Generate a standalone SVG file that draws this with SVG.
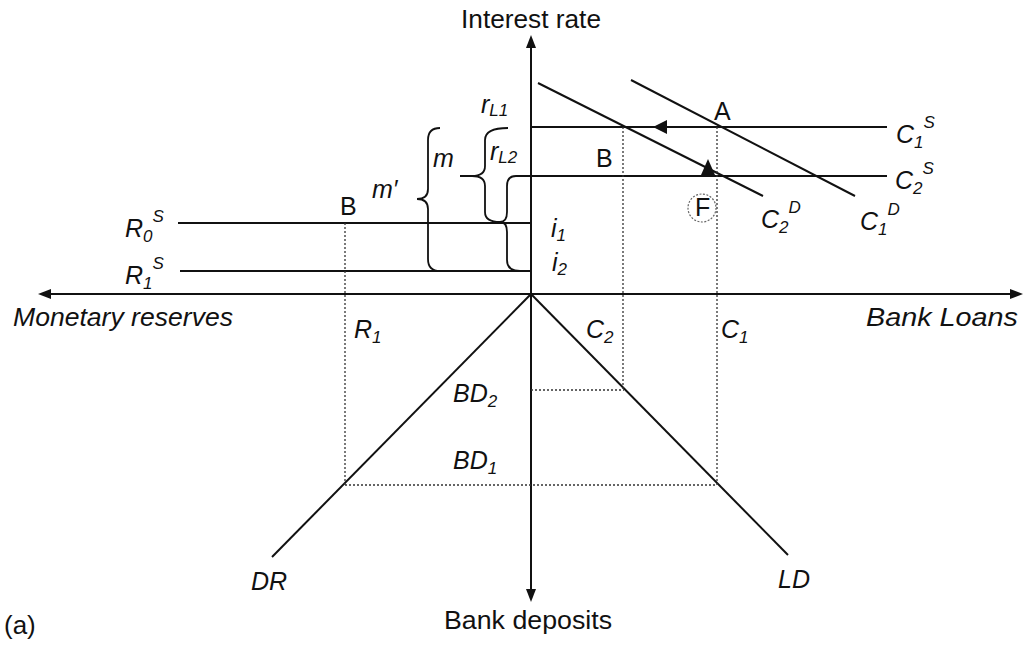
<svg xmlns="http://www.w3.org/2000/svg" width="1025" height="645" viewBox="0 0 1025 645">
<defs>
<style>
.ln{stroke:#111;stroke-width:2;fill:none}
.ax{stroke:#111;stroke-width:2;fill:none}
.dt{stroke:#333;stroke-width:1.3;stroke-dasharray:2 2;fill:none}
.br{stroke:#111;stroke-width:1.8;fill:none}
.t{font-family:"Liberation Sans",Arial,sans-serif;font-size:25px;fill:#111}
.ttl{font-size:26px}
.i{font-style:italic}
.sb{font-size:17px}
.hd{fill:#111;stroke:none}
</style>
</defs>
<rect width="1025" height="645" fill="#fff"/>
<g id="axes">
<line class="ax" x1="531" y1="40" x2="531" y2="597"/>
<line class="ax" x1="44" y1="294" x2="1017" y2="294"/>
<polygon class="hd" points="531,35 526,48 536,48"/>
<polygon class="hd" points="531,602 526,589 536,589"/>
<polygon class="hd" points="38,294 51,289 51,299"/>
<polygon class="hd" points="1023,294 1010,289 1010,299"/>
</g>
<g id="curves">
<line class="ln" x1="531" y1="127" x2="887" y2="127"/>
<line class="ln" x1="531" y1="176" x2="887" y2="176"/>
<line class="ln" x1="178" y1="223" x2="531" y2="223"/>
<line class="ln" x1="180" y1="271" x2="531" y2="271"/>
<line class="ln" x1="538" y1="83" x2="763" y2="196"/>
<line class="ln" x1="631" y1="80" x2="855" y2="196"/>
<line class="ln" x1="531" y1="294" x2="272" y2="557"/>
<line class="ln" x1="531" y1="294" x2="788" y2="555"/>
<polygon class="hd" points="653,127 667,120 667,134"/>
<polygon class="hd" points="708,159 701,175 715,175"/>
</g>
<g id="guides">
<line class="dt" x1="345" y1="223" x2="345" y2="485"/>
<line class="dt" x1="623" y1="127" x2="623" y2="390"/>
<line class="dt" x1="717" y1="127" x2="717" y2="485"/>
<line class="dt" x1="531" y1="390" x2="624" y2="390"/>
<line class="dt" x1="345" y1="485" x2="717" y2="485"/>
</g>
<g id="braces">
<path class="br" d="M440,128 Q428,128 428,140 L428,189 Q428,199 417,199 Q428,199 428,209 L428,259 Q428,271 440,271"/>
<path class="br" d="M508,128 Q485,128 485,140 L485,166 Q485,176 472,176 L460,176 M472,176 Q485,176 485,186 L485,212 Q485,222 500,222"/>
<path class="br" d="M531,176 L516,176 Q507,176 507,186 L507,212 Q507,222 500,222 Q507,222 507,232 L507,260 Q507,271 520,271"/>
<circle cx="702" cy="208" r="14" fill="none" stroke="#666" stroke-width="1.2" stroke-dasharray="2 1.5"/>
</g>
<g id="labels">
<text class="t ttl" x="531" y="28" text-anchor="middle" textLength="140" lengthAdjust="spacingAndGlyphs">Interest rate</text>
<text class="t ttl" x="528" y="629" text-anchor="middle" textLength="168" lengthAdjust="spacingAndGlyphs">Bank deposits</text>
<text class="t ttl" x="4" y="634">(a)</text>
<text class="t ttl i" x="13" y="326" textLength="220" lengthAdjust="spacingAndGlyphs">Monetary reserves</text>
<text class="t ttl i" x="866" y="326" textLength="152" lengthAdjust="spacingAndGlyphs">Bank Loans</text>
<text class="t" x="714" y="120">A</text>
<text class="t" x="596" y="167">B</text>
<text class="t" x="340" y="215">B</text>
<text class="t" x="695" y="216" font-size="20">F</text>
<text class="t i" x="896" y="143">C<tspan class="sb" dy="5">1</tspan><tspan class="sb" dy="-20">S</tspan></text>
<text class="t i" x="895" y="189">C<tspan class="sb" dy="5">2</tspan><tspan class="sb" dy="-20">S</tspan></text>
<text class="t i" x="761" y="228">C<tspan class="sb" dy="5">2</tspan><tspan class="sb" dy="-20">D</tspan></text>
<text class="t i" x="860" y="230">C<tspan class="sb" dy="5">1</tspan><tspan class="sb" dy="-20">D</tspan></text>
<text class="t i" x="125" y="237">R<tspan class="sb" dy="5">0</tspan><tspan class="sb" dy="-20">S</tspan></text>
<text class="t i" x="125" y="284">R<tspan class="sb" dy="5">1</tspan><tspan class="sb" dy="-20">S</tspan></text>
<text class="t i" x="481" y="113">r<tspan class="sb" dy="3">L1</tspan></text>
<text class="t i" x="490" y="160">r<tspan class="sb" dy="3">L2</tspan></text>
<text class="t i" x="433" y="167">m</text>
<text class="t i" x="372" y="198">m′</text>
<text class="t i" x="551" y="237">i<tspan class="sb" dy="4">1</tspan></text>
<text class="t i" x="552" y="271">i<tspan class="sb" dy="4">2</tspan></text>
<text class="t i" x="354" y="338">R<tspan class="sb" dy="5">1</tspan></text>
<text class="t i" x="586" y="338">C<tspan class="sb" dy="5">2</tspan></text>
<text class="t i" x="721" y="338">C<tspan class="sb" dy="5">1</tspan></text>
<text class="t i" x="453" y="402">BD<tspan class="sb" dy="5">2</tspan></text>
<text class="t i" x="453" y="469">BD<tspan class="sb" dy="5">1</tspan></text>
<text class="t i" x="251" y="590">DR</text>
<text class="t i" x="778" y="588">LD</text>
</g>
</svg>
